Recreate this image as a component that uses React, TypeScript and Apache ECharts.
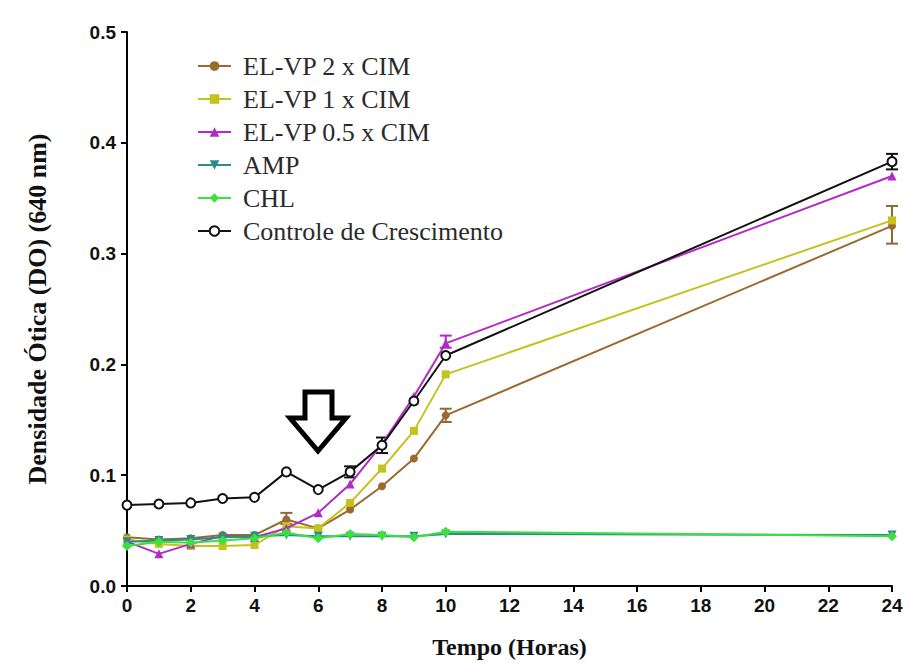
import React, { useEffect, useRef } from "react";
import * as echarts from "echarts";

const hours = [0, 1, 2, 3, 4, 5, 6, 7, 8, 9, 10, 24];
const xTicks = [0, 2, 4, 6, 8, 10, 12, 14, 16, 18, 20, 22, 24];

const elvp2 = [0.044, 0.042, 0.043, 0.046, 0.046, 0.060, 0.052, 0.069, 0.090, 0.115, 0.154, 0.325];
const elvp1 = [0.042, 0.038, 0.036, 0.036, 0.037, 0.054, 0.052, 0.075, 0.106, 0.140, 0.191, 0.330];
const elvp05 = [0.040, 0.029, 0.038, 0.045, 0.044, 0.052, 0.066, 0.092, 0.128, 0.171, 0.219, 0.370];
const amp = [0.040, 0.041, 0.042, 0.044, 0.045, 0.046, 0.045, 0.045, 0.045, 0.045, 0.047, 0.046];
const chl = [0.036, 0.040, 0.039, 0.041, 0.043, 0.048, 0.043, 0.047, 0.046, 0.044, 0.049, 0.045];
const controle = [0.073, 0.074, 0.075, 0.079, 0.080, 0.103, 0.087, 0.103, 0.127, 0.167, 0.208, 0.383];

// error bars: [hour, low, high]
const errBrown = [[5, 0.056, 0.066], [10, 0.148, 0.160], [24, 0.309, 0.343]];
const errBlack = [[7, 0.098, 0.108], [8, 0.120, 0.134], [24, 0.376, 0.390]];
const errPurple = [[10, 0.215, 0.226]];

const names = [
  "EL-VP 2 x CIM",
  "EL-VP 1 x CIM",
  "EL-VP 0.5 x CIM",
  "AMP",
  "CHL",
  "Controle de Crescimento",
];
const colors = ["#9a6a2e", "#c4c21c", "#b02cc4", "#2a8c8c", "#3ee03e", "#111111"];

function pairs(vals: number[]) {
  return hours.map((h, i) => [h, vals[i]]);
}

function errSeries(data: number[][], color: string) {
  return {
    type: "custom",
    silent: true,
    z: 3,
    data,
    renderItem: (params: any, api: any) => {
      const x = api.value(0);
      const lo = api.coord([x, api.value(1)]);
      const hi = api.coord([x, api.value(2)]);
      const w = 6;
      const st = { stroke: color, lineWidth: 2 };
      return {
        type: "group",
        children: [
          { type: "line", shape: { x1: lo[0], y1: lo[1], x2: hi[0], y2: hi[1] }, style: st },
          { type: "line", shape: { x1: lo[0] - w, y1: lo[1], x2: lo[0] + w, y2: lo[1] }, style: st },
          { type: "line", shape: { x1: hi[0] - w, y1: hi[1], x2: hi[0] + w, y2: hi[1] }, style: st },
        ],
      };
    },
    encode: { x: 0, y: [1, 2] },
  };
}

export default function App() {
  const ref = useRef<HTMLDivElement>(null);
  useEffect(() => {
    const chart = echarts.init(ref.current!, null, { renderer: "svg" });
    const symbols = ["circle", "rect", "triangle", "path://M0,0 L10,0 L5,9 Z", "diamond", "emptyCircle"];
    const sizes = [8, 8, 9, 9, 10, 9];
    const seriesList: any[] = [elvp2, elvp1, elvp05, amp, chl, controle].map((vals, i) => ({
      name: names[i],
      type: "line",
      data: pairs(vals),
      symbol: symbols[i],
      symbolSize: sizes[i],
      showSymbol: true,
      lineStyle: { color: colors[i], width: 2 },
      itemStyle: i === 5 ? { color: colors[i], borderColor: colors[i], borderWidth: 2 } : { color: colors[i] },
      z: 4 + i,
    }));
    seriesList.push(errSeries(errBrown, "#8c6a38"));
    seriesList.push(errSeries(errBlack, "#111111"));
    seriesList.push(errSeries(errPurple, "#b02cc4"));

    chart.setOption({
      animation: false,
      backgroundColor: "#ffffff",
      grid: { left: 127, right: 18, top: 32, bottom: 75, containLabel: false },
      legend: {
        orient: "vertical",
        left: 192,
        top: 48,
        itemWidth: 33,
        itemHeight: 12,
        itemGap: 7,
        data: names,
        textStyle: {
          fontFamily: "Liberation Serif",
          fontSize: 26,
          lineHeight: 26,
          color: "#2a2a2a",
          padding: [0, 0, 0, 7],
        },
      },
      xAxis: {
        type: "value",
        min: 0,
        max: 24,
        interval: 2,
        name: "Tempo (Horas)",
        nameLocation: "middle",
        nameGap: 49,
        nameTextStyle: { fontFamily: "Liberation Serif", fontWeight: "bold", fontSize: 24, color: "#111" },
        axisLine: { lineStyle: { color: "#000", width: 2 } },
        axisTick: { length: 6, lineStyle: { color: "#000", width: 2 } },
        axisLabel: {
          fontFamily: "Liberation Sans",
          fontWeight: "bold",
          fontSize: 19,
          color: "#111",
          margin: 10,
          formatter: (v: number) => (xTicks.includes(v) ? String(v) : ""),
        },
        splitLine: { show: false },
      },
      yAxis: {
        type: "value",
        min: 0,
        max: 0.5,
        interval: 0.1,
        name: "Densidade Ótica (DO) (640 nm)",
        nameLocation: "middle",
        nameGap: 77,
        nameTextStyle: { fontFamily: "Liberation Serif", fontWeight: "bold", fontSize: 26, color: "#111" },
        axisLine: { show: true, lineStyle: { color: "#000", width: 2 } },
        axisTick: { show: true, length: 6, lineStyle: { color: "#000", width: 2 } },
        axisLabel: {
          fontFamily: "Liberation Sans",
          fontWeight: "bold",
          fontSize: 19,
          color: "#111",
          margin: 11,
          formatter: (v: number) => v.toFixed(1),
        },
        splitLine: { show: false },
      },
      graphic: [
        {
          type: "polygon",
          shape: {
            points: [
              [305, 392],
              [332, 392],
              [332, 418],
              [346, 418],
              [318, 451],
              [290, 418],
              [305, 418],
            ],
          },
          style: { fill: "#ffffff", stroke: "#000", lineWidth: 5, lineJoin: "miter" },
          z: 100,
        },
      ],
      series: seriesList,
    });
    return () => chart.dispose();
  }, []);
  return (
    <div
      ref={ref}
      style={{ position: "absolute", left: 0, top: 0, width: 910, height: 664 }}
    />
  );
}
